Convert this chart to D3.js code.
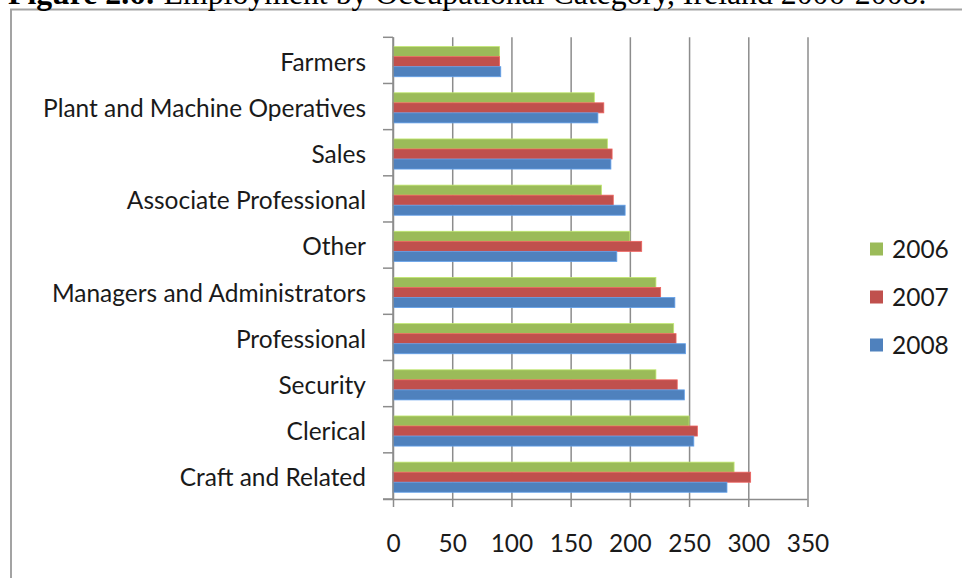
<!DOCTYPE html>
<html>
<head>
<meta charset="utf-8">
<script src="https://cdn.jsdelivr.net/npm/d3@7/dist/d3.min.js"></script>
<style>
  html, body { margin: 0; padding: 0; background: #fff; }
  svg { display: block; }
</style>
</head>
<body>
<svg id="chart" width="962" height="578"></svg>
<script>
// ---- data ----
const categories = ["Farmers", "Plant and Machine Operatives", "Sales", "Associate Professional",
  "Other", "Managers and Administrators", "Professional", "Security", "Clerical", "Craft and Related"];
const seriesNames = ["2006", "2007", "2008"];
const values2006 = [90, 170, 181, 176, 200, 222, 237, 222, 250, 288];
const values2007 = [90, 178, 185, 186, 210, 226, 239, 240, 257, 302];
const values2008 = [91, 173, 184, 196, 189, 238, 247, 246, 254, 282];
const xTicks = [0, 50, 100, 150, 200, 250, 300, 350];
const colors = ["#9BBB59", "#C0504D", "#4F81BD"];
const titleBold = "Figure 2.6:";
const titleRest = " Employment by Occupational Category, Ireland 2006-2008.";

const seriesValues = [values2006, values2007, values2008];

const svg = d3.select("#chart");
const labelFont = "Lato, 'Open Sans', sans-serif";

// frame
svg.append("rect")
  .attr("x", 11).attr("y", 9.5).attr("width", 1200).attr("height", 800)
  .attr("fill", "#fff").attr("stroke", "#a3a3a3").attr("stroke-width", 2);

// title (partly clipped at top, as in the reference)
const title = svg.append("text")
  .attr("x", 8).attr("y", 4)
  .attr("font-family", "'Liberation Serif', 'Times New Roman', serif")
  .attr("font-size", 26).attr("fill", "#000");
title.append("tspan").attr("font-weight", "bold").text(titleBold);
title.append("tspan").text(titleRest);
const tw = title.node().getComputedTextLength();
title.attr("font-size", 26 * 919 / tw);

// scales
const x = d3.scaleLinear().domain([0, 350]).range([393, 807.5]);
const y0 = d3.scaleBand().domain(categories).range([37.3, 499]).paddingInner(0).paddingOuter(0);
const y1 = d3.scaleBand().domain(seriesNames).range([0, y0.bandwidth()])
  .paddingInner(0).paddingOuter(0.8).align(0.58);

// gridlines
svg.append("g")
  .attr("transform", `translate(0,${y0.range()[1]})`)
  .call(d3.axisBottom(x).tickValues(xTicks).tickSize(-(y0.range()[1] - y0.range()[0])).tickFormat(""))
  .call(g => g.select(".domain").remove())
  .call(g => g.selectAll("line").attr("stroke", "#8c8c8c").attr("stroke-width", 1.5));

// bars
const groups = svg.append("g").selectAll("g")
  .data(categories)
  .join("g")
  .attr("transform", d => `translate(0,${y0(d)})`);

groups.selectAll("rect")
  .data((d, i) => seriesNames.map((s, j) => ({ s, j, v: seriesValues[j][i] })))
  .join("rect")
  .attr("x", x(0))
  .attr("y", d => y1(d.s))
  .attr("width", d => x(d.v) - x(0))
  .attr("height", y1.bandwidth())
  .attr("fill", d => colors[d.j])
  .attr("stroke", d => d3.color(colors[d.j]).brighter(0.6))
  .attr("stroke-width", 0.8);

// x axis
const xAxis = svg.append("g")
  .attr("transform", `translate(0,${y0.range()[1]})`)
  .call(d3.axisBottom(x).tickValues(xTicks).tickSize(8).tickPadding(24).tickSizeOuter(0));
xAxis.select(".domain").attr("stroke", "#8c8c8c").attr("stroke-width", 1.5)
  .attr("d", `M${x(0) - 10},0.5H${x(350)}`);
xAxis.selectAll(".tick line").attr("stroke", "#8c8c8c").attr("stroke-width", 1.5);
xAxis.selectAll(".tick text")
  .attr("font-family", labelFont).attr("font-size", 22).attr("fill", "#1a1a1a")
  .attr("dy", "0.85em");

// y axis
const yAxis = svg.append("g")
  .attr("transform", `translate(${x(0)},0)`)
  .call(d3.axisLeft(y0).tickSize(0).tickPadding(27));
yAxis.select(".domain").attr("stroke", "#8c8c8c").attr("stroke-width", 1.5)
  .attr("d", `M0,${y0.range()[0]}V${y0.range()[1]}`);
yAxis.selectAll(".tick text")
  .attr("font-family", labelFont).attr("font-size", 22).attr("fill", "#1a1a1a")
  .attr("dy", "0.42em");
// category boundary ticks
yAxis.append("g").selectAll("line")
  .data(categories.concat(["__end"]))
  .join("line")
  .attr("x1", -10).attr("x2", 0)
  .attr("y1", (d, i) => i < categories.length ? y0(d) : y0.range()[1])
  .attr("y2", (d, i) => i < categories.length ? y0(d) : y0.range()[1])
  .attr("stroke", "#8c8c8c").attr("stroke-width", 1.5);

// fit label font size to reference width of longest label (~323px)
const probe = yAxis.selectAll(".tick text").filter(d => d === "Plant and Machine Operatives");
const pw = probe.node().getComputedTextLength();
const fs = 22 * 323 / pw;
yAxis.selectAll(".tick text").attr("font-size", fs);
xAxis.selectAll(".tick text").attr("font-size", fs);

// legend
const legend = svg.append("g");
const legendY = [249, 297, 345];
seriesNames.forEach((s, i) => {
  legend.append("rect")
    .attr("x", 870).attr("y", legendY[i] - 6.5).attr("width", 13).attr("height", 13)
    .attr("fill", colors[i]);
  legend.append("text")
    .attr("x", 892).attr("y", legendY[i]).attr("dy", "0.38em")
    .attr("font-family", labelFont).attr("font-size", fs).attr("fill", "#1a1a1a")
    .text(s);
});
</script>
</body>
</html>
